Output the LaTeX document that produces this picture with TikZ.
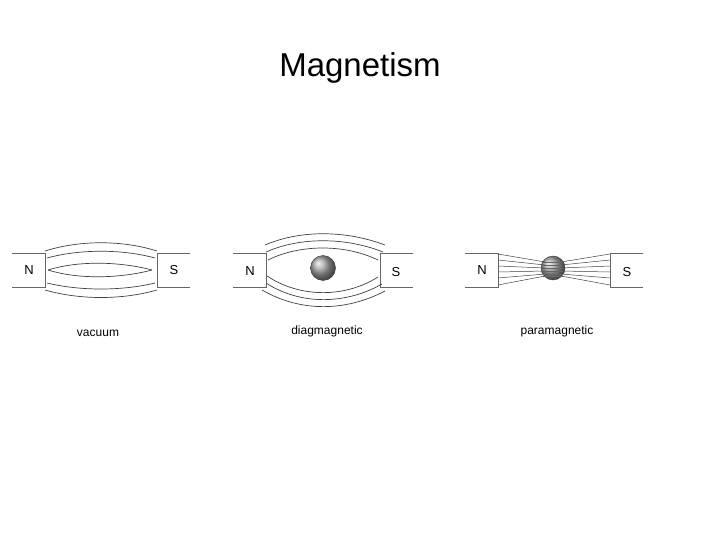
\documentclass[tikz,border=0pt]{standalone}
\usepackage{fontspec}
\setmainfont{Liberation Sans}
\begin{document}
\begin{tikzpicture}[x=1pt,y=-1pt,
  fl/.style={draw=black!75,line width=0.7pt},
  mag/.style={draw=black!60,line width=0.8pt},
  lab/.style={font=\fontsize{12}{14}\selectfont},
  pole/.style={font=\fontsize{13}{15}\selectfont},
  ball/.style={ball color=gray!70,draw=black!80}]
\useasboundingbox (0,0) rectangle (720,540);
\node[font=\fontsize{33}{38}\selectfont] (title) at (360,68) {Magnetism};
% vacuum
\draw[mag] (12,253) -- (45,253) -- (45,287) -- (12,287);
\draw[mag] (190,253) -- (157,253) -- (157,287) -- (190,287);
\node[pole] (n1) at (29,270) {N};
\node[pole] (s1) at (174,270) {S};
\draw[fl] (45,251) .. controls (80,240) and (122,240) .. (157,251);
\draw[fl] (47,258) .. controls (80,249) and (122,249) .. (155,258);
\draw[fl] (48,270) .. controls (80,260) and (122,262) .. (152,270);
\draw[fl] (48,270) .. controls (80,280) and (122,278) .. (152,270);
\draw[fl] (47,283) .. controls (80,291) and (122,291) .. (155,283);
\draw[fl] (45,290) .. controls (80,300) and (122,300) .. (157,290);
\node[lab] (l1) at (98,333) {vacuum};
% diamagnetic
\draw[mag] (233,253) -- (266,253) -- (266,287) -- (233,287);
\draw[mag] (413,253) -- (380,253) -- (380,287) -- (413,287);
\node[pole] (n2) at (250,271) {N};
\node[pole] (s2) at (396,272) {S};
\shade[ball] (323,268) circle (12.5);
\draw[fl] (265,245) .. controls (300,230) and (345,230) .. (385,245);
\draw[fl] (266,252) .. controls (300,237) and (345,237) .. (383,252);
\draw[fl] (268,260) .. controls (300,244) and (345,244) .. (378,260);
\draw[fl] (267,276) .. controls (300,298) and (345,298) .. (378,277);
\draw[fl] (266,283) .. controls (300,305) and (345,305) .. (382,284);
\draw[fl] (262,290) .. controls (300,312) and (345,312) .. (385,291);
\node[lab] (l2) at (327,331) {diagmagnetic};
% paramagnetic
\draw[mag] (465,253) -- (498,253) -- (498,287) -- (465,287);
\draw[mag] (643,253) -- (610,253) -- (610,287) -- (643,287);
\node[pole] (n3) at (482,270) {N};
\node[pole] (s3) at (627,272) {S};
\shade[ball] (553,268) circle (12);
\foreach \a/\b in {254/262,260/265,266/268,272/271,278/274,285/276}{
  \draw[fl,line width=0.5pt] (498,\a) -- (545,\b);
  \draw[fl,line width=0.5pt] (610,\a) -- (561,\b);
  \draw[black!60,line width=0.4pt] (543,\b) -- (563,\b);
}
\node[lab] (l3) at (557,331) {paramagnetic};
\end{tikzpicture}
\end{document}
